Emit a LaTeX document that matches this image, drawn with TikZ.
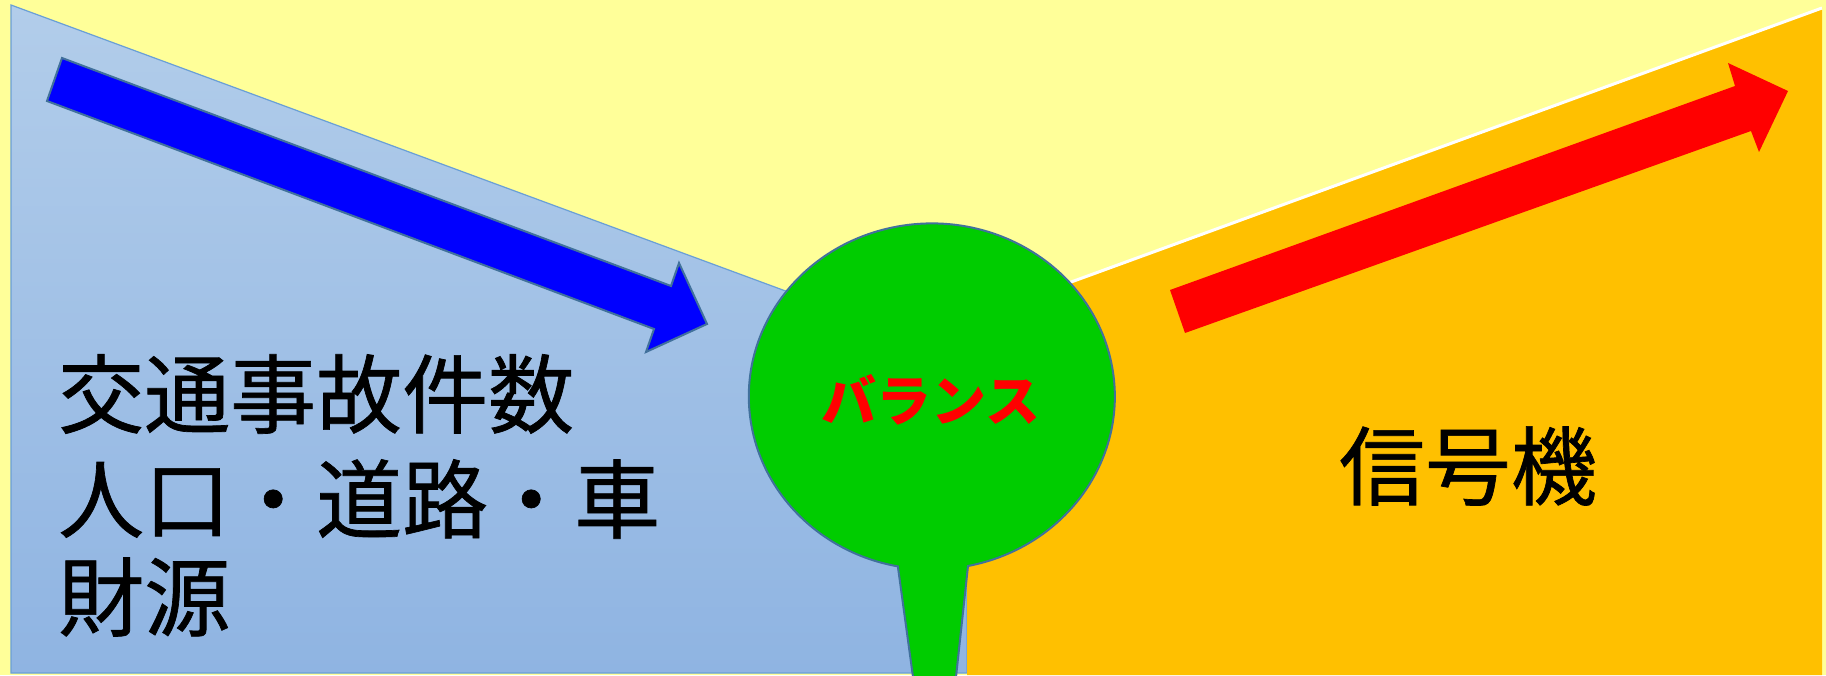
\documentclass[tikz,border=0pt]{standalone}
\usepackage{fontspec}
\newfontfamily\cjk{Noto Sans CJK JP}
\newfontfamily\cjkheavy[FakeBold=0.8]{Noto Sans CJK JP}
\begin{document}
\begin{tikzpicture}[x=1pt,y=1pt,
  bigtext/.style={font=\cjkheavy\fontsize{86}{101}\selectfont, inner sep=0pt, anchor=west, text=black},
  sigtext/.style={font=\cjkheavy\fontsize{86}{96}\selectfont, inner sep=0pt, text=black},
  baltext/.style={font=\cjk\bfseries\fontsize{55}{60}\selectfont, inner sep=0pt, text=red},
]
\definecolor{bgyellow}{HTML}{FFFF99}
\definecolor{bluetop}{HTML}{B2CDEA}
\definecolor{bluebot}{HTML}{8FB4E2}
\definecolor{blueedge}{HTML}{6A9FD6}
\definecolor{orangefill}{HTML}{FFC000}
\definecolor{steel}{HTML}{41719C}
\definecolor{balgreen}{HTML}{00CC00}
% background
\fill[bgyellow] (0,0) rectangle (1826,675);
\useasboundingbox (0,0) rectangle (1826,675);
% blue region
\shade[top color=bluetop, bottom color=bluebot] (11,670) -- (967,317) -- (967,2) -- (11,2) -- cycle;
\draw[blueedge, line width=1.2pt] (11,670) -- (967,317) -- (967,2) -- (11,2) -- cycle;
% orange region
\fill[orangefill] (967,355) -- (1822,667) -- (1822,0) -- (967,0) -- cycle;
\draw[white, line width=3pt] (967,355) -- (1822,667);
% blue arrow
\draw[fill=blue, draw=steel, line width=2pt, line join=miter]
  (62,617) -- (671,389) -- (679,412) -- (707,351) -- (646,323) -- (654,346) -- (47,574) -- cycle;
% red arrow
\fill[red]
  (1170,385) -- (1735,589) -- (1728,612) -- (1788,584) -- (1759,523) -- (1751,544) -- (1185,342) -- cycle;
% balloon
\draw[fill=balgreen, draw=steel, line width=2pt]
  (968,109) arc[start angle=-78.6, end angle=259.3, x radius=183, y radius=173]
  -- (913,-2) -- (956,-2) -- cycle;
% texts
\node[bigtext] (t1) at (58,281) {交通事故件数};
\node[bigtext] (t2) at (58,176) {人口・道路・車};
\node[bigtext] (t3) at (58,78) {財源};
\node[sigtext] (sig) at (1468,209) {信号機};
\node[baltext] (bal) at (931,275) {バランス};
\end{tikzpicture}
\end{document}
